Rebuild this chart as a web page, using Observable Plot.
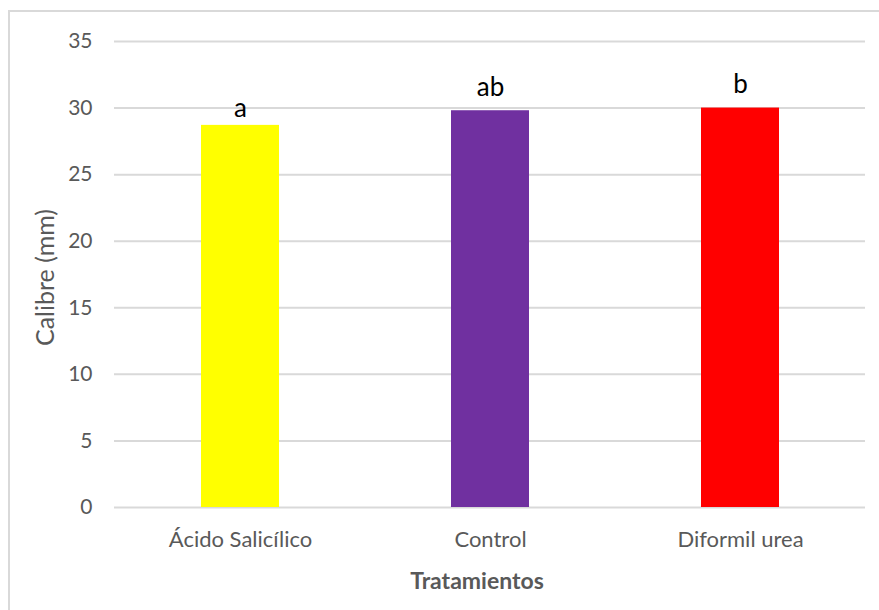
<!DOCTYPE html>
<html>
<head>
<meta charset="utf-8">
<script src="https://cdn.jsdelivr.net/npm/d3@7"></script>
<script src="https://cdn.jsdelivr.net/npm/@observablehq/plot@0.6"></script>
<style>
  html, body { margin: 0; padding: 0; background: #fff; overflow: hidden; }
  #wrap { position: relative; width: 879px; height: 610px; }
  #border { position: absolute; left: 8px; top: 10px; width: 900px; height: 700px;
            border-left: 2px solid #d9d9d9; border-top: 2px solid #d9d9d9; box-sizing: border-box; }
  #chart { position: absolute; left: 0; top: 0; }
</style>
</head>
<body>
<div id="wrap"><div id="border"></div><div id="chart"></div></div>
<script>
// Calibre medio del fruto por tratamiento
const treatments = ["Ácido Salicílico", "Control", "Diformil urea"];
const calibre = [28.7, 29.8, 30.0];
const letters = ["a", "ab", "b"];
const barColors = ["#FFFF00", "#7030A0", "#FF0000"];
const yTicks = [0, 5, 10, 15, 20, 25, 30, 35];

const rows = treatments.map((t, i) => ({ treatment: t, value: calibre[i], letter: letters[i], color: barColors[i] }));

const font = "Lato, 'Open Sans', sans-serif";

const chart = Plot.plot({
  width: 879,
  height: 610,
  marginLeft: 114,
  marginRight: 14,
  marginTop: 41,
  marginBottom: 103,
  style: { fontFamily: font, background: "transparent", overflow: "visible" },
  x: { domain: treatments, paddingInner: 0.69, paddingOuter: 0.345, label: null },
  y: { domain: [0, 35], label: null },
  marks: [
    Plot.gridY(yTicks, { stroke: "#d9d9d9", strokeOpacity: 1, strokeWidth: 2 }),
    Plot.axisY(yTicks, { tickSize: 0, tickPadding: 22, fontSize: 21, fill: "#595959", label: null }),
    Plot.axisX({ tickSize: 0, tickPadding: 24, fontSize: 22, fill: "#595959", label: null }),
    Plot.barY(rows, { x: "treatment", y: "value", fill: "color" }),
    Plot.text(rows.filter(d => d.letter === "a"), { x: "treatment", y: "value", text: "letter", lineAnchor: "bottom", dy: -8, fontSize: 26, fill: "#000" }),
    Plot.text(rows.filter(d => d.letter !== "a"), { x: "treatment", y: "value", text: "letter", lineAnchor: "bottom", dy: -15, fontSize: 26, fill: "#000" }),
    Plot.text(["Calibre (mm)"], { frameAnchor: "left", textAnchor: "middle", rotate: -90, dx: -69, dy: 3, fontSize: 25, fill: "#595959" }),
    Plot.text(["Tratamientos"], { frameAnchor: "bottom", dy: 81, dx: -13, fontSize: 23, fontWeight: "bold", fill: "#595959" })
  ]
});

document.getElementById("chart").appendChild(chart);
</script>
</body>
</html>
